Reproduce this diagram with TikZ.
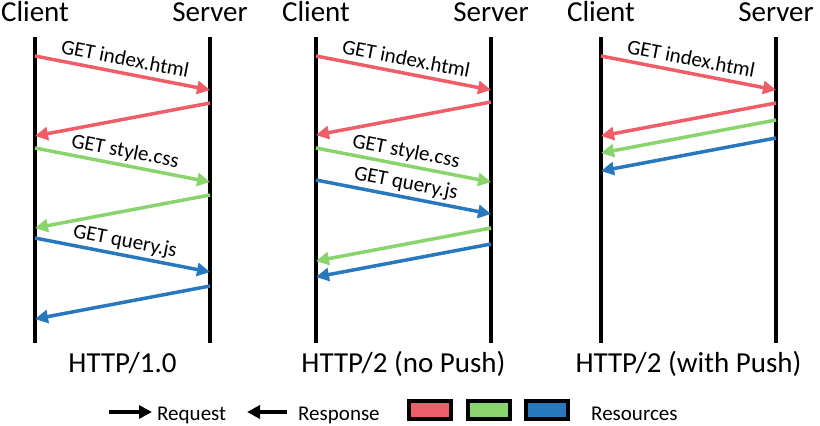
\documentclass[tikz,border=0pt]{standalone}
\usepackage{fontspec}
\setmainfont{Carlito}
\usepackage{tikz}
\usetikzlibrary{arrows.meta}

\definecolor{resred}{RGB}{239,94,104}
\definecolor{resgreen}{RGB}{138,212,110}
\definecolor{resblue}{RGB}{40,120,190}

\tikzset{
  lifeline/.style={line width=3.5pt},
  msg/.style={line width=3.5pt,-{Triangle[length=13pt,width=13pt]}},
  msglabel/.style={font=\fontsize{21}{24}\selectfont,sloped,above,inner sep=2pt,text depth=4pt},
  title/.style={font=\fontsize{29}{34}\selectfont,anchor=base,inner sep=0pt},
  legend/.style={font=\fontsize{21}{24}\selectfont,anchor=base west,inner sep=0pt},
  resbox/.style={draw,line width=4pt,minimum width=42pt,minimum height=18pt,inner sep=0pt},
}

\begin{document}
\begin{tikzpicture}[x=1pt,y=-1pt]
  \useasboundingbox (0,0) rectangle (820,426);

  % client and server lines
  \foreach \n/\c/\s in {1/35/210,2/316/491,3/601/776} {
    \coordinate (ct\n) at (\c,37);
    \coordinate (cb\n) at (\c,343);
    \coordinate (st\n) at (\s,37);
    \coordinate (sb\n) at (\s,343);
    \draw[lifeline] (ct\n) -- (cb\n);
    \draw[lifeline] (st\n) -- (sb\n);
    \node[title] (client\n) at (\c,21) {Client};
    \node[title] (server\n) at (\s,21) {Server};
  }

  % requests
  \foreach \p/\col/\y/\file in {1/resred/56/index.html,1/resgreen/148/style.css,1/resblue/238/query.js,
                                2/resred/56/index.html,2/resgreen/148/style.css,2/resblue/180/query.js,
                                3/resred/56/index.html} {
    \coordinate (rqa\p\y) at (ct\p |- 0,\y);
    \coordinate (rqb\p\y) at (st\p |- 0,{\y+34});
    \draw[msg,draw=\col] (rqa\p\y) -- node[msglabel] (get\p\y) {GET \file} (rqb\p\y);
  }

  % responses
  \foreach \p/\col/\y in {1/resred/103,1/resgreen/195,1/resblue/286,
                          2/resred/102,2/resgreen/228,2/resblue/244,
                          3/resred/103,3/resgreen/120,3/resblue/138} {
    \coordinate (rsa\p\y) at (st\p |- 0,\y);
    \coordinate (rsb\p\y) at (ct\p |- 0,{\y+33});
    \draw[msg,draw=\col] (rsa\p\y) -- (rsb\p\y);
  }

  \node[title] (ver1) at (122.5,372) {HTTP/1.0};
  \node[title] (ver2) at (403.5,372) {HTTP/2 (no Push)};
  \node[title] (ver3) at (688.5,372) {HTTP/2 (with Push)};

  % legend
  \coordinate (reqtail) at (109,412);
  \coordinate (reqtip) at (152,412);
  \draw[msg] (reqtail) -- (reqtip);
  \node[legend] (req) at (157,420) {Request};
  \coordinate (resptail) at (287,412);
  \coordinate (resptip) at (247,412);
  \draw[msg] (resptail) -- (resptip);
  \node[legend] (resp) at (298,420) {Response};
  \node[resbox,fill=resred] (boxred) at (429.5,409.5) {};
  \node[resbox,fill=resgreen] (boxgreen) at (489,409.5) {};
  \node[resbox,fill=resblue] (boxblue) at (546.5,409.5) {};
  \node[legend] (res) at (591,420) {Resources};

\end{tikzpicture}
\end{document}
